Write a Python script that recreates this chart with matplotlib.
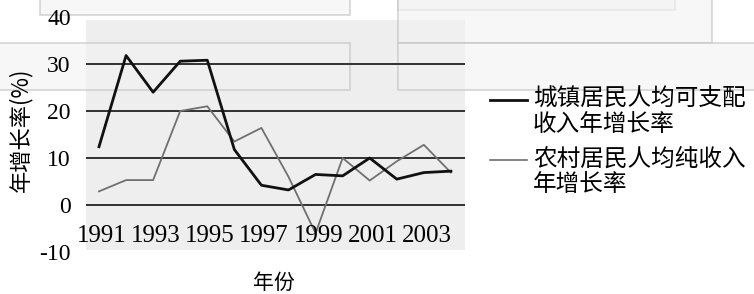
import matplotlib.pyplot as plt
from matplotlib.lines import Line2D
from matplotlib.patches import Rectangle

years = list(range(1991, 2005))
urban = [12.4, 31.8, 24.0, 30.6, 30.8, 11.8, 4.2, 3.2, 6.5, 6.2, 10.0, 5.5, 6.9, 7.2]
rural = [2.9, 5.3, 5.3, 20.0, 21.0, 13.5, 16.4, 6.0, -6.0, 10.0, 5.2, 9.3, 12.8, 6.9]
x_labels = [1991, 1993, 1995, 1997, 1999, 2001, 2003]
y_ticks = [40, 30, 20, 10, 0, -10]
grid_vals = [0, 10, 20, 30]
legend_labels = ['城镇居民人均可支配\n收入年增长率', '农村居民人均纯收入\n年增长率']

W, H = 754, 294
serif = ['Liberation Serif', 'DejaVu Serif']
cjk = ['Noto Sans CJK SC', 'DejaVu Sans']

fig = plt.figure(figsize=(W / 100, H / 100), dpi=100)


def px(x, y):
    # pixel (top-left origin) -> figure fraction
    return x / W, 1 - y / H


# page artifacts: faint boxes from the scan
for (x0, y0, x1, y1) in [(40, -5, 350, 15), (398, -5, 675, 10), (398, -5, 712, 43),
                         (-5, 43, 350, 90), (398, 43, 760, 90)]:
    fx, fy = px(x0, y1)
    fig.add_artist(Rectangle((fx, fy), (x1 - x0) / W, (y1 - y0) / H,
                             transform=fig.transFigure, facecolor='#f3f3f3',
                             edgecolor='#c4c4c4', lw=1.4, alpha=0.6, zorder=-1))
fx, fy = px(86, 250)
fig.add_artist(Rectangle((fx, fy), (465 - 86) / W, (250 - 20) / H, transform=fig.transFigure,
                         facecolor='#eeeeee', edgecolor='none', zorder=-2))

l, b = px(86, 252)
r, t = px(465, 17)
ax = fig.add_axes([l, b, r - l, t - b])
ax.set_facecolor('none')
ax.set_xlim(1990.52, 2004.52)
ax.set_ylim(-10, 40)

for g in grid_vals:
    ax.axhline(g, color='#222222', lw=1.3, zorder=1)

ax.plot(years, rural, color='#707070', lw=1.3, zorder=2)
ax.plot(years, urban, color='#111111', lw=2.0, zorder=3)

for s in ax.spines.values():
    s.set_visible(False)
ax.set_xticks([])
ax.set_yticks(y_ticks)
ax.set_yticklabels([str(v) for v in y_ticks], fontfamily=serif, fontsize=17)
ax.tick_params(axis='y', length=0, pad=11)

for yr in x_labels:
    ax.text(yr + 0.1, -6.6, str(yr), ha='center', va='center', fontfamily=serif,
            fontsize=18, zorder=4)

fig.text(*px(20, 130), '年增长率(%)', rotation=90, ha='center', va='center',
         fontfamily=cjk, fontsize=16)
fig.text(*px(274, 283), '年份', ha='center', va='center', fontfamily=cjk, fontsize=15)

# legend drawn by hand
styles = [dict(color='#111111', lw=2.0), dict(color='#707070', lw=1.2)]
for i, (lab, st) in enumerate(zip(legend_labels, styles)):
    ytop = 88 + i * 60
    x0, yy = px(490, ytop + 12)
    x1, _ = px(527, ytop + 12)
    fig.add_artist(Line2D([x0, x1], [yy, yy], transform=fig.transFigure, **st))
    fig.text(*px(533, ytop), lab, ha='left', va='top', fontfamily=cjk, fontsize=17,
             linespacing=1.12)

fig.savefig('out.png', dpi=100)
